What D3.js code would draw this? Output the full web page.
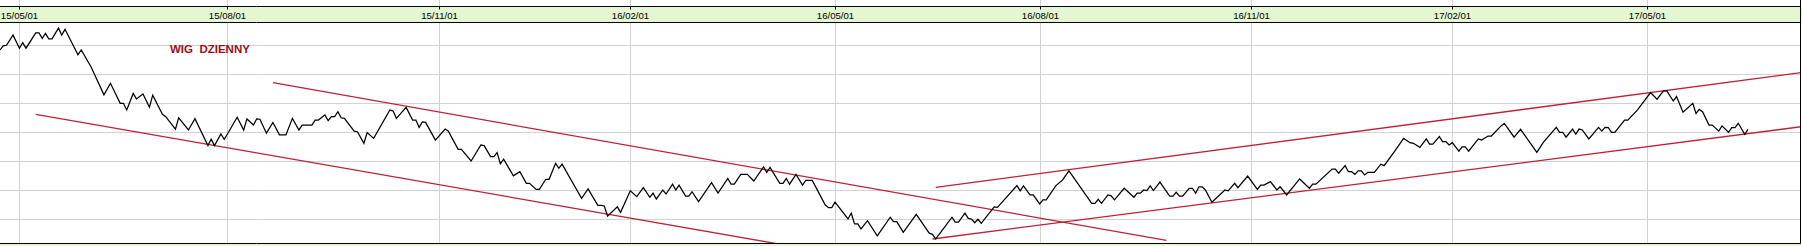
<!DOCTYPE html>
<html><head><meta charset="utf-8">
<script src="https://cdn.jsdelivr.net/npm/d3@7"></script>
<style>html,body{margin:0;padding:0;background:#fff;overflow:hidden}</style>
</head><body><svg id="c" width="1802" height="246"></svg>
<script>
// ---- data ----
const tickLabels = ["15/05/01","15/08/01","15/11/01","16/02/01","16/05/01","16/08/01","16/11/01","17/02/01","17/05/01"];
const tickSessions = [6,70,135,194,257,320,385,447,507];
const gridLevels = [2000,2100,2200,2300,2400,2500,2600];
const sessions = [0,1,2,4,6,7,8,11,12,13,14,15,16,18,19,20,24,25,28,32,34,37,38,39,41,42,44,46,47,50,51,54,55,58,60,64,65,66,68,69,70,73,75,76,78,79,80,82,84,86,88,90,92,
93,96,97,98,100,101,102,103,104,105,106,109,110,112,113,115,120,121,122,125,127,128,129,130,131,134,137,138,141,142,145,148,149,151,152,153,154,155,158,160,162,163,165,166,168,169,171,172,173,179,181,184,185,
186,187,190,191,194,196,198,200,201,202,204,205,207,208,209,211,212,213,215,219,221,224,225,226,228,230,232,235,236,237,240,241,242,243,245,247,248,250,254,255,256,257,261,262,263,264,265,267,270,274,275,276,277,
278,282,286,287,288,293,294,295,297,298,299,300,301,302,306,307,313,314,315,317,318,320,321,322,325,327,329,336,337,338,339,341,342,343,346,349,350,351,352,353,354,355,357,360,361,362,363,364,366,367,368,369,
370,371,373,377,378,380,381,384,387,388,389,391,393,394,396,400,403,404,405,410,411,412,414,415,416,417,418,419,420,421,423,425,426,429,432,434,435,437,439,440,441,443,444,445,446,447,449,450,451,452,455,456,458,459,462,
463,466,468,473,475,479,480,481,482,484,485,486,487,489,492,493,494,495,496,497,500,501,504,508,510,512,513,515,516,518,521,522,523,524,526,527,529,530,532,533,534,535,537,538];
const closes = [2583,2597,2599,2634,2589,2608,2589,2642,2642,2623,2640,2621,2621,2658,2634,2654,2566,2583,2525,2428,2468,2399,2399,2376,2433,2414,2431,2385,2427,2361,2353,2310,2349,2307,2346,2253,2275,2253,2293,2275,2293,2351,2307,2345,2324,2345,2344,2296,2333,2290,2290,2347,2307,
2324,2324,2341,2341,2359,2339,2353,2353,2370,2349,2347,2303,2301,2261,2298,2278,2376,2372,2347,2385,2341,2341,2316,2335,2333,2272,2310,2303,2240,2240,2200,2255,2253,2215,2215,2229,2190,2206,2149,2163,2123,2123,2102,2102,2137,2137,2192,2175,2189,2071,2104,2047,2047,
2045,2010,2042,2023,2097,2077,2108,2075,2089,2069,2100,2086,2120,2100,2117,2079,2079,2094,2060,2125,2089,2140,2120,2120,2154,2154,2131,2180,2161,2178,2123,2123,2140,2120,2154,2117,2133,2133,2048,2039,2039,2058,2000,2020,1983,1983,1966,1994,1942,2006,1991,1991,1973,
1954,2016,1951,1947,1931,2006,1989,1989,2020,2002,2000,1987,1999,1985,2042,2040,2115,2097,2114,2083,2083,2052,2066,2066,2115,2134,2166,2054,2054,2068,2054,2083,2080,2066,2106,2075,2089,2089,2100,2098,2114,2098,2127,2079,2079,2092,2079,2079,2106,2106,2089,2111,
2111,2100,2058,2100,2097,2123,2108,2148,2102,2117,2117,2129,2100,2111,2083,2138,2106,2120,2120,2172,2172,2158,2184,2163,2163,2154,2166,2166,2152,2161,2161,2189,2184,2230,2278,2263,2261,2247,2276,2258,2258,2284,2267,2267,2255,2263,2234,2249,2249,2234,2276,2272,2286,2286,2321,
2330,2282,2309,2230,2264,2316,2299,2299,2282,2310,2293,2310,2307,2276,2316,2303,2316,2315,2299,2299,2341,2341,2376,2436,2413,2442,2442,2407,2422,2368,2399,2364,2378,2370,2324,2324,2303,2321,2299,2315,2315,2330,2292,2309];
// trend lines: [session, level] endpoints
const trendLowerFall = [[11,2361],[240,1913]];
const trendUpperFall = [[84,2470],[359,1926]];
const trendUpperRise = [[288,2109],[555,2506]];
const trendLowerRise = [[287,1931],[555,2319]];
const chartTitle = "WIG  DZIENNY";

// ---- layout ----
const W = 1802, H = 246;
const plotL = 0, plotR = 1800.5, bandTop = 6.5, bandBot = 22.5, plotBot = 243.5;
const green = "#e4f7d2", grid = "#d2d2d2", red = "#c02034";

const svg = d3.select("#c");
const x = d3.scaleLinear().domain([0, 554]).range([0, 1800]);
const y = d3.scaleLinear().domain([1917.2, 2679.3]).range([243, 22]);

svg.append("rect").attr("width", W).attr("height", H).attr("fill", "#fff");
svg.append("rect").attr("x", 0).attr("y", plotBot).attr("width", W).attr("height", H - plotBot).attr("fill", green);
svg.append("rect").attr("x", 0).attr("y", bandTop).attr("width", W).attr("height", bandBot - bandTop).attr("fill", green);

const defs = svg.append("defs");
defs.append("clipPath").attr("id", "clip").append("rect")
  .attr("x", plotL).attr("y", bandBot).attr("width", plotR - plotL).attr("height", plotBot - bandBot);

// gridlines
const gv = svg.append("g").attr("stroke", grid).attr("stroke-width", 1);
gv.selectAll("line.v").data(tickSessions).join("line")
  .attr("x1", d => Math.round(x(d)) + 0.5).attr("x2", d => Math.round(x(d)) + 0.5)
  .attr("y1", bandBot).attr("y2", plotBot);
gv.selectAll("line.vt").data(tickSessions).join("line").attr("class","vt")
  .attr("x1", d => Math.round(x(d)) + 0.5).attr("x2", d => Math.round(x(d)) + 0.5)
  .attr("y1", 0).attr("y2", bandTop);
gv.selectAll("line.h").data(gridLevels).join("line").attr("class","h")
  .attr("x1", plotL).attr("x2", plotR)
  .attr("y1", d => Math.round(y(d)) + 0.5).attr("y2", d => Math.round(y(d)) + 0.5);

// trend lines
const trendLine = d3.line().x(d => x(d[0])).y(d => y(d[1]));
const tg = svg.append("g").attr("clip-path", "url(#clip)");
[trendLowerFall, trendUpperFall, trendUpperRise, trendLowerRise].forEach(t => {
  tg.append("path").attr("d", trendLine(t)).attr("fill", "none").attr("stroke", red).attr("stroke-width", 1.3);
});

// price line
const pts = sessions.map((s, i) => [s, closes[i]]);
tg.append("path").attr("d", d3.line().x(d => x(d[0])).y(d => y(d[1]))(pts))
  .attr("fill", "none").attr("stroke", "#000").attr("stroke-width", 1.25).attr("stroke-linejoin", "miter");

// frame lines
const fr = svg.append("g").attr("stroke", "#000").attr("stroke-width", 1);
fr.append("line").attr("x1", 0).attr("x2", plotR).attr("y1", bandTop).attr("y2", bandTop);
fr.append("line").attr("x1", 0).attr("x2", plotR).attr("y1", bandBot).attr("y2", bandBot);
fr.append("line").attr("x1", 0).attr("x2", plotR).attr("y1", plotBot).attr("y2", plotBot);
fr.append("line").attr("x1", plotR).attr("x2", plotR).attr("y1", 0).attr("y2", plotBot);

// axis
const axis = d3.axisBottom(x).tickValues(tickSessions).tickFormat((d, i) => tickLabels[i]).tickSize(3).tickSizeOuter(0);
const ag = svg.append("g").attr("transform", `translate(0.5,${bandTop})`).call(axis);
ag.select(".domain").remove();
ag.selectAll(".tick line").attr("stroke", "#000");
ag.selectAll(".tick").attr("transform", d => `translate(${Math.round(x(d))},0)`);
ag.selectAll(".tick text").attr("y", 12).attr("dy", 0)
  .attr("font-family", "'Liberation Sans', Arial, sans-serif").attr("font-size", 9.6).attr("fill", "#000");

// title
svg.append("text").attr("x", 170).attr("y", 53).text(chartTitle)
  .attr("font-family", "'Liberation Sans', Arial, sans-serif").attr("font-weight", "bold")
  .attr("font-size", 11.5).attr("fill", "#a00c18").style("white-space", "pre");
</script></body></html>
